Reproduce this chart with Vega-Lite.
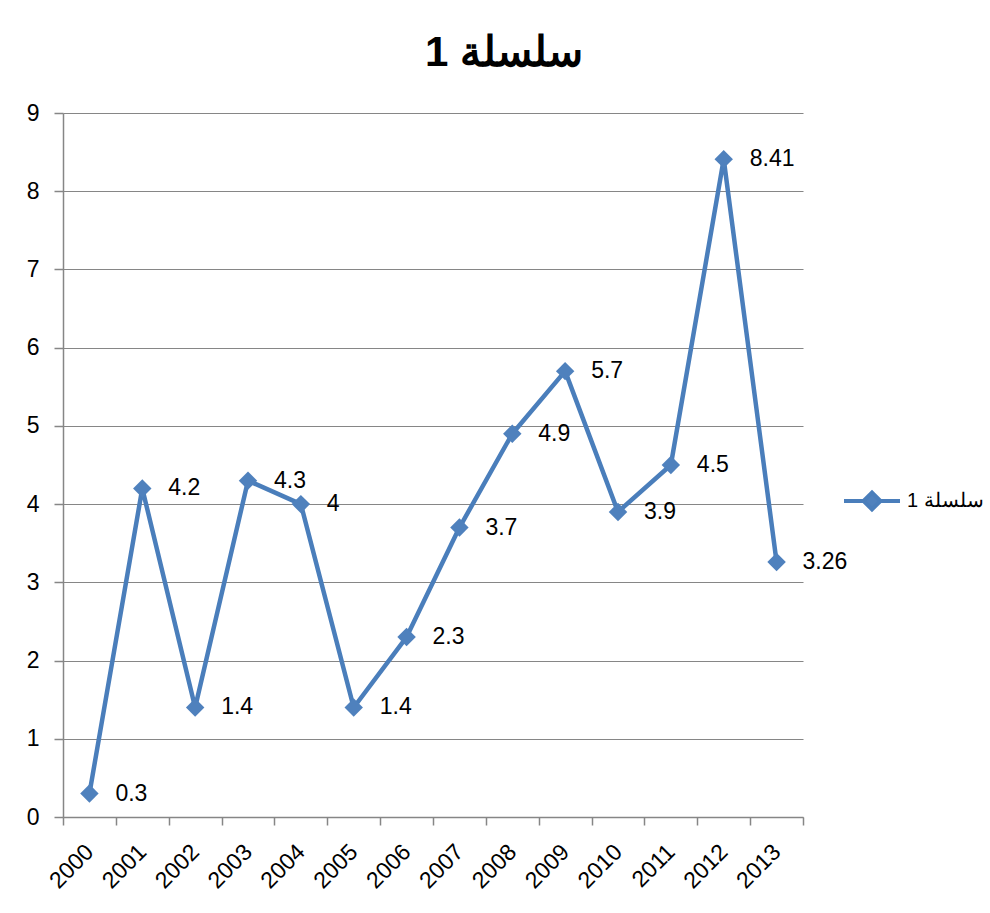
{
  "$schema": "https://vega.github.io/schema/vega-lite/v6.json",
  "width": 740,
  "height": 704,
  "autosize": {"type": "none"},
  "padding": {"left": 63, "top": 113, "right": 187, "bottom": 96},
  "background": "white",
  "config": {
    "view": {"stroke": null},
    "font": "Liberation Sans"
  },
  "title": {
    "text": "\u200fسلسلة 1",
    "font": "Liberation Sans",
    "fontSize": 42,
    "fontWeight": "bold",
    "color": "black",
    "anchor": "middle",
    "frame": "group",
    "dx": 71,
    "offset": 27
  },
  "data": {
    "values": [
      {"year": "2000", "value": 0.3, "series": "سلسلة 1"},
      {"year": "2001", "value": 4.2, "series": "سلسلة 1"},
      {"year": "2002", "value": 1.4, "series": "سلسلة 1"},
      {"year": "2003", "value": 4.3, "series": "سلسلة 1"},
      {"year": "2004", "value": 4, "series": "سلسلة 1"},
      {"year": "2005", "value": 1.4, "series": "سلسلة 1"},
      {"year": "2006", "value": 2.3, "series": "سلسلة 1"},
      {"year": "2007", "value": 3.7, "series": "سلسلة 1"},
      {"year": "2008", "value": 4.9, "series": "سلسلة 1"},
      {"year": "2009", "value": 5.7, "series": "سلسلة 1"},
      {"year": "2010", "value": 3.9, "series": "سلسلة 1"},
      {"year": "2011", "value": 4.5, "series": "سلسلة 1"},
      {"year": "2012", "value": 8.41, "series": "سلسلة 1"},
      {"year": "2013", "value": 3.26, "series": "سلسلة 1"}
    ]
  },
  "encoding": {
    "x": {
      "field": "year",
      "type": "ordinal",
      "scale": {"type": "band", "paddingInner": 0, "paddingOuter": 0},
      "axis": {
        "title": null,
        "grid": false,
        "tickBand": "extent",
        "tickSize": 8,
        "tickColor": "#868686",
        "domainColor": "#868686",
        "domainWidth": 1.5,
        "tickWidth": 1.5,
        "labelAngle": -45,
        "labelAlign": "right",
        "labelBaseline": "middle",
        "labelPadding": 23,
        "labelFontSize": 23,
        "labelFont": "Liberation Sans",
        "labelColor": "black"
      }
    },
    "y": {
      "field": "value",
      "type": "quantitative",
      "scale": {"domain": [0, 9], "nice": false},
      "axis": {
        "title": null,
        "values": [0, 1, 2, 3, 4, 5, 6, 7, 8, 9],
        "grid": true,
        "gridColor": "#868686",
        "gridWidth": 1.2,
        "tickSize": 9,
        "tickColor": "#868686",
        "tickWidth": 1.5,
        "domainColor": "#868686",
        "domainWidth": 1.5,
        "labelPadding": 15,
        "labelFontSize": 23,
        "labelFont": "Liberation Sans",
        "labelColor": "black"
      }
    }
  },
  "layer": [
    {
      "mark": {"type": "line", "strokeWidth": 4.5, "strokeJoin": "round"},
      "encoding": {
        "color": {
          "field": "series",
          "type": "nominal",
          "scale": {"range": ["#4A7EBB"]},
          "legend": {
            "title": null,
            "orient": "none",
            "legendX": 779,
            "legendY": 358,
            "padding": 0,
            "symbolType": "M-1,0L-0.3,0L0,-0.3L0.3,0L1,0L0.3,0L0,0.3L-0.3,0Z",
            "symbolSize": 3136,
            "labelFontSize": 20,
            "labelFont": "Liberation Sans",
            "labelColor": "black",
            "labelOffset": 5,
            "labelExpr": "'\u200f' + datum.label",
            "encode": {
              "symbols": {
                "update": {
                  "fill": {"value": "#4F81BD"},
                  "stroke": {"value": "#4A7EBB"},
                  "strokeWidth": {"value": 4},
                  "opacity": {"value": 1},
                  "fillOpacity": {"value": 1}
                }
              }
            }
          }
        }
      }
    },
    {
      "mark": {"type": "point", "shape": "diamond", "filled": true, "size": 340, "opacity": 1, "color": "#4F81BD"}
    },
    {
      "mark": {"type": "text", "align": "left", "baseline": "middle", "dx": 26, "fontSize": 23, "font": "Liberation Sans", "color": "black"},
      "encoding": {"text": {"field": "value", "type": "quantitative"}}
    }
  ]
}
